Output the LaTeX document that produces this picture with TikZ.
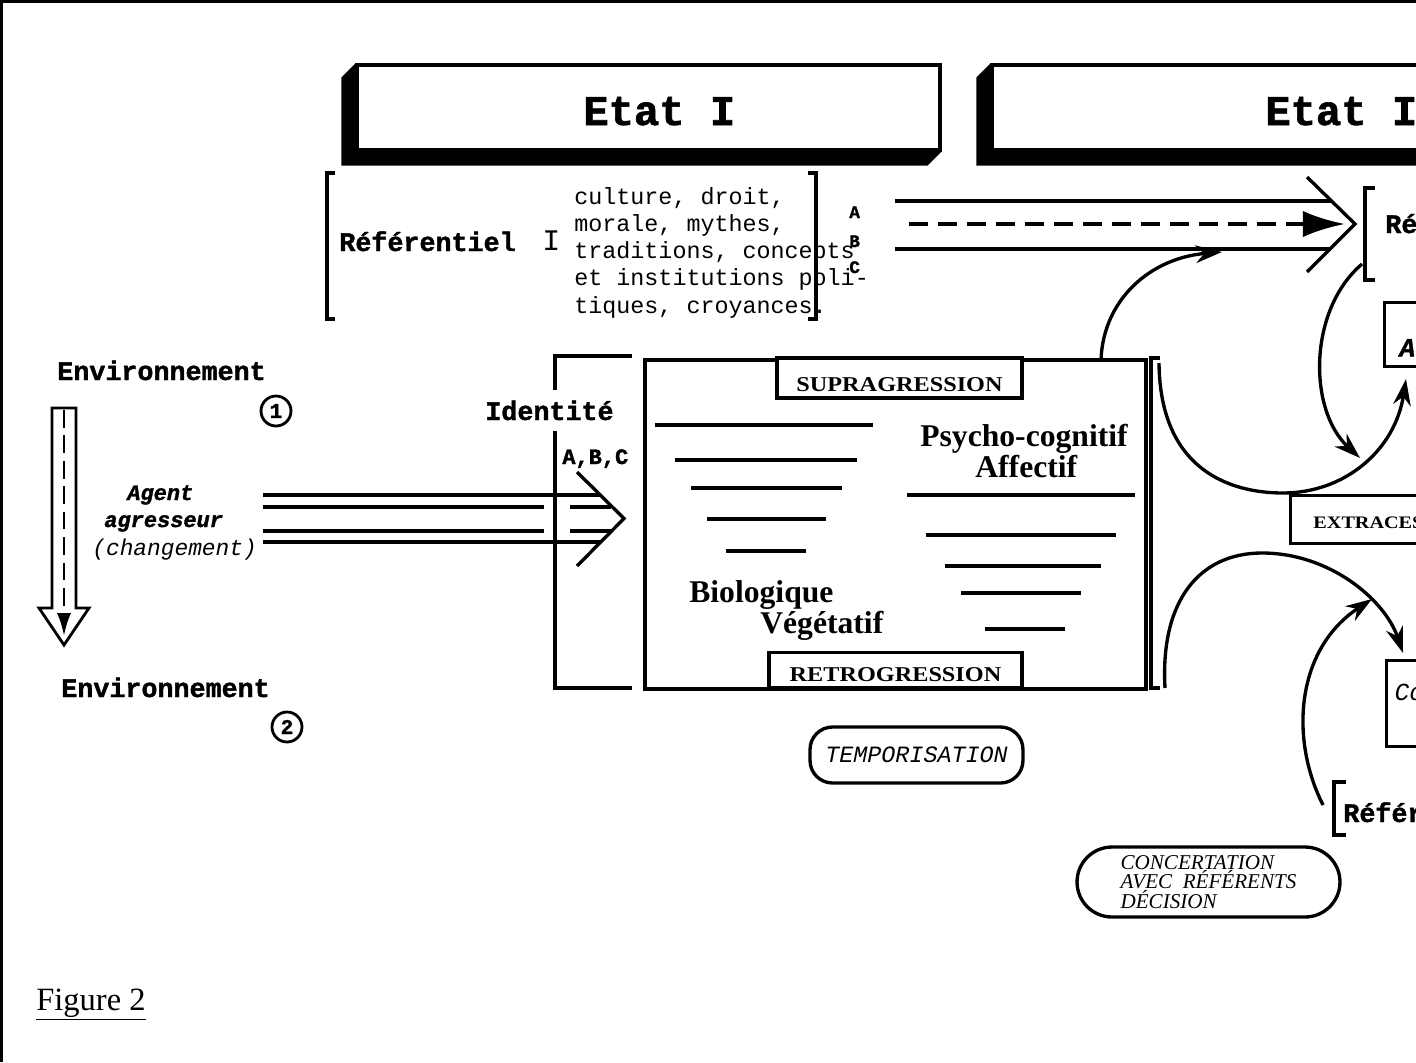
\documentclass[tikz,border=0pt]{standalone}
\usepackage{fontspec}
\setmainfont{Liberation Serif}
\setmonofont{Liberation Mono}[BoldFeatures={FakeBold=1.5}, BoldItalicFeatures={FakeBold=1.5}]
\newfontfamily\wideserif[FakeStretch=1.15]{Liberation Serif}
\usetikzlibrary{arrows.meta}

\tikzset{
  thickln/.style={line width=1.9pt},
  headln/.style={line width=1.9pt, -{Stealth[length=15pt, width=10pt]}},
  etatbox/.style={draw, line width=1.8pt, fill=white, minimum width=11.66cm, minimum height=1.7cm, inner sep=0pt},
  etatlbl/.style={inner sep=0pt, anchor=base west, font=\ttfamily\bfseries\fontsize{24}{28}\selectfont},
  reflbl/.style={inner sep=0pt, anchor=base west, font=\ttfamily\bfseries\fontsize{15.2}{18}\selectfont},
  romanI/.style={inner sep=0pt, anchor=base west, font=\ttfamily\fontsize{17}{20}\selectfont},
  listlbl/.style={inner sep=0pt, anchor=north west, align=left, font=\ttfamily\fontsize{13.3}{15.5}\selectfont},
  abclbl/.style={inner sep=0pt, anchor=base west, font=\ttfamily\bfseries\fontsize{10}{12}\selectfont},
  agentlbl/.style={inner sep=0pt, anchor=base west, font=\ttfamily\bfseries\itshape\fontsize{12.5}{15}\selectfont},
  changlbl/.style={inner sep=0pt, anchor=base west, font=\ttfamily\itshape\fontsize{13}{15}\selectfont},
  numcirc/.style={circle, draw, line width=1.6pt, minimum size=0.6cm, inner sep=0pt, font=\ttfamily\bfseries\fontsize{12}{14}\selectfont},
  gradbox/.style={draw, line width=1.8pt, fill=white, inner sep=0pt, font=\wideserif\bfseries\fontsize{12}{14}\selectfont},
  bigserif/.style={inner sep=0pt, anchor=base west, font=\bfseries\fontsize{18}{22}\selectfont},
  rightbox/.style={draw, line width=1.8pt, anchor=south west, inner ysep=0pt, text width=3cm, align=left},
  capsule/.style={draw, line width=1.9pt, inner sep=0pt}
}

\begin{document}
\begin{tikzpicture}[x=0.02cm, y=-0.02cm]
\useasboundingbox (0,0) rectangle (1416,1062);
\clip (0,0) rectangle (1416,1062);

% Cadre
\draw[line width=1.2pt] (1.5,1062) -- (1.5,1.5) -- (1416,1.5);

% Etat I
\node[etatbox] (etat1) at (648.5,107.5) {};
\fill (etat1.north west) -- ([shift={(-14,14)}]etat1.north west) -- ([shift={(-14,14)}]etat1.south west)
  -- ([shift={(-14,14)}]etat1.south east) -- (etat1.south east) -- (etat1.south west) -- cycle;
\node[etatlbl] (etat1lbl) at (583,125) {Etat I};

% Etat II
\node[etatbox, minimum width=12cm] (etat2) at (1292,107.5) {};
\fill (etat2.north west) -- ([shift={(-14,14)}]etat2.north west) -- ([shift={(-14,14)}]etat2.south west)
  -- ([shift={(-14,14)}]etat2.south east) -- (etat2.south east) -- (etat2.south west) -- cycle;
\node[etatlbl] (etat2lbl) at (1265,125) {Etat I};

% Referentiel I
\draw[thickln] (335,173) -- (327,173) -- (327,319) -- (335,319);
\draw[thickln] (808,173) -- (816,173) -- (816,319) -- (808,319);
\node[reflbl] (ref1) at (339,251) {Référentiel};
\node[romanI] (ref1num) at (542,250) {I};
\node[listlbl] (ref1list) at (574,187) {culture, droit,\\morale, mythes,\\traditions, concepts\\et institutions poli-\\tiques, croyances.};
\node[abclbl] (lblA) at (849,218) {A};
\node[abclbl] (lblB) at (849,247) {B};
\node[abclbl] (lblC) at (849,273) {C};

% Transmission vers Referentiel II
\coordinate (chev) at (1355,224);
\draw[thickln] (895,201) -- (1331,201);
\draw[thickln] (895,249) -- (1331,249);
\draw[thickln] (1307,177) -- (chev) -- (1307,272);
\draw[line width=2.3pt, dash pattern=on 11pt off 5.5pt, -{Latex[length=24pt, width=15pt]}] (909,224) -- (1345,224);

% Referentiel II
\draw[thickln] (1375,188) -- (1365,188) -- (1365,280) -- (1375,280);
\node[reflbl] (ref2) at (1385,233) {Ré};

% Boites de droite
\node[rightbox, inner xsep=8.5pt, text height=30.6pt, text depth=5.7pt, font=\ttfamily\bfseries\itshape\fontsize{15}{18}\selectfont] (boxA) at (1383,368) {A};
\node[rightbox, inner xsep=13pt, text height=18.7pt, text depth=8.5pt, font=\wideserif\bfseries\fontsize{10}{12}\selectfont] (extra) at (1289,545) {EXTRACES};
\node[rightbox, inner xsep=4.5pt, text height=22.7pt, text depth=26pt, font=\ttfamily\itshape\fontsize{14}{17}\selectfont] (boxCo) at (1385,748) {Co};

% Referentiel III
\draw[thickln] (1346,782) -- (1334,782) -- (1334,835) -- (1346,835);
\node[reflbl] (ref3) at (1343,822) {Référ};

% Identite
\node[draw, line width=1.9pt, minimum width=10.02cm, minimum height=6.58cm] (psy) at (895.5,524.5) {};
\draw[thickln] (632,356) -- (555,356) -- (555,688) -- (632,688);
\draw[thickln] (1160,358) -- (1151,358) -- (1151,688) -- (1160,688);
\node[reflbl, fill=white, inner ysep=6pt] (ident) at (485,420) {Identité};
\node[inner sep=0pt, anchor=base west, font=\ttfamily\bfseries\fontsize{12.5}{15}\selectfont] (identabc) at (562,464) {A,B,C};

% niveaux
\draw[thickln] (655,425) -- (873,425);
\draw[thickln] (675,460) -- (857,460);
\draw[thickln] (691,488) -- (842,488);
\draw[thickln] (707,519) -- (826,519);
\draw[thickln] (726,551) -- (806,551);
\draw[thickln] (907,495) -- (1135,495);
\draw[thickln] (926,535) -- (1116,535);
\draw[thickln] (945,566) -- (1101,566);
\draw[thickln] (961,593) -- (1081,593);
\draw[thickln] (985,629) -- (1065,629);

\node[gradbox, text height=19.3pt, text depth=3.4pt, minimum width=4.9cm] (supra) at (899.5,378) {SUPRAGRESSION};
\node[gradbox, text height=17pt, text depth=3.4pt, minimum width=5.06cm] (retro) at (895.5,670) {RETROGRESSION};
\node[bigserif] (psycho) at (920,446) {Psycho-cognitif};
\node[bigserif] (affect) at (975,477) {Affectif};
\node[bigserif] (bio) at (689,602) {Biologique};
\node[bigserif] (veget) at (760,633) {Végétatif};

% Environnement
\node[reflbl] (env1) at (57,380) {Environnement};
\node[numcirc] (n1) at (276,411) {1};
\node[reflbl] (env2) at (61,697) {Environnement};
\node[numcirc] (n2) at (287,727) {2};
\draw[line width=1.6pt] (52,408) -- (76,408) -- (76,608) -- (89,608) -- (64,645) -- (39,608) -- (52,608) -- cycle;
\draw[line width=1.6pt, dash pattern=on 10pt off 4.5pt, -{Latex[length=13pt, width=8pt]}] (64,410) -- (64,636);

% Agent agresseur
\node[agentlbl] (agent1) at (127,500) {Agent};
\node[agentlbl] (agent2) at (104,527) {agresseur};
\node[changlbl] (agent3) at (92,555) {(changement)};
\coordinate (aghead) at (624,518.5);
\draw[thickln] (263,495) -- (600,495);
\draw[thickln] (263,507) -- (544,507) (570,507) -- (611,507);
\draw[thickln] (263,531) -- (544,531) (570,531) -- (611,531);
\draw[thickln] (263,542) -- (600,542);
\draw[thickln] (577,472) -- (aghead) -- (577,566);

% Boucles
\coordinate (up1s) at (1101,360);
\coordinate (up1e) at (1222,252);
\draw[headln] (up1s) .. controls (1103,300) and (1150,258) .. (up1e);
\coordinate (r2s) at (1362,264);
\coordinate (r2e) at (1360,458);
\draw[headln] (r2s) .. controls (1308,310) and (1308,410) .. (r2e);
\coordinate (us) at (1159,363);
\coordinate (ue) at (1406,379);
\draw[headln] (us) .. controls (1160,470) and (1230,493) .. (1283,493) .. controls (1345,493) and (1395,450) .. (ue);
\coordinate (ls) at (1165,688);
\coordinate (le) at (1403,653);
\draw[headln] (ls) .. controls (1160,600) and (1200,553) .. (1262,553) .. controls (1330,553) and (1385,600) .. (le);
\coordinate (r3s) at (1323,805);
\coordinate (r3e) at (1372,599);
\draw[headln] (r3s) .. controls (1290,740) and (1295,650) .. (r3e);

% Temporisation, concertation
\node[capsule, minimum width=4.26cm, minimum height=1.12cm, rounded corners=0.45cm, font=\ttfamily\itshape\fontsize{13.3}{16}\selectfont] (tempo) at (916.5,755) {TEMPORISATION};
\node[capsule, minimum width=5.26cm, minimum height=1.4cm, rounded corners=0.7cm, align=left, font=\itshape\fontsize{12}{11}\selectfont] (concert) at (1208.5,882) {CONCERTATION\\AVEC~~RÉFÉRENTS\\DÉCISION};

% Legende
\node[inner sep=0pt, anchor=base west, font=\fontsize{18.5}{22}\selectfont] (figcap) at (36,1010) {\underline{Figure 2}};
\end{tikzpicture}
\end{document}
